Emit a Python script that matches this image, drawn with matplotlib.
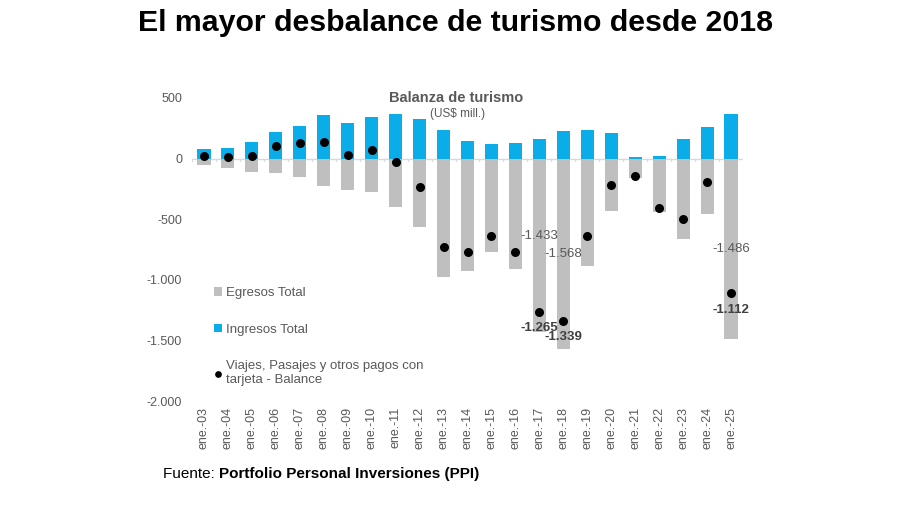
import matplotlib.pyplot as plt
from matplotlib.ticker import FuncFormatter

plt.rcParams["font.family"] = ["Liberation Sans", "DejaVu Sans"]

# Datos (US$ mill.)
periodos = ["ene.-03", "ene.-04", "ene.-05", "ene.-06", "ene.-07", "ene.-08",
            "ene.-09", "ene.-10", "ene.-11", "ene.-12", "ene.-13", "ene.-14",
            "ene.-15", "ene.-16", "ene.-17", "ene.-18", "ene.-19", "ene.-20",
            "ene.-21", "ene.-22", "ene.-23", "ene.-24", "ene.-25"]
ingresos = [78, 90, 134, 219, 270, 360, 292, 341, 369, 325, 238, 142,
            117, 131, 164, 224, 232, 210, 16, 25, 161, 257, 369]
egresos = [-55, -77, -109, -123, -148, -230, -262, -273, -402, -568, -975, -926,
           -770, -910, -1433, -1568, -885, -429, -164, -440, -664, -459, -1486]
balance = [20, 14, 22, 101, 128, 134, 30, 74, -27, -235, -732, -773,
           -642, -773, -1265, -1339, -642, -221, -142, -410, -500, -194, -1112]

# valores destacados
idx_lbl = [14, 15, 22]

azul = "#0AADE8"
gris = "#BFBFBF"
texto = "#595959"


def miles(v, pos=None):
    s = f"{abs(v):,.0f}".replace(",", ".")
    return ("-" if v < 0 else "") + s


fig = plt.figure(figsize=(9, 5.05), dpi=100)
ax = fig.add_axes([0.2133, 0.2059, 0.6123, 0.6001])

x = range(len(periodos))
b_eg = ax.bar(x, egresos, width=0.55, color=gris, label="Egresos Total", zorder=2)
b_in = ax.bar(x, ingresos, width=0.55, color=azul, label="Ingresos Total", zorder=2)
pts = ax.scatter(x, balance, s=30, color="black", zorder=4,
                 label="Viajes, Pasajes y otros pagos con\ntarjeta - Balance")

ax.axhline(0, color="#D9D9D9", lw=1, zorder=1)
for i in x:
    ax.plot([i - 0.5, i - 0.5], [0, -18], color="#D9D9D9", lw=0.8, zorder=1)

ax.set_xlim(-0.5, len(periodos) - 0.5)
ax.set_ylim(-2000, 500)
ax.set_yticks([500, 0, -500, -1000, -1500, -2000])
ax.yaxis.set_major_formatter(FuncFormatter(miles))
ax.set_xticks(list(x))
ax.set_xticklabels(periodos, rotation=90)
ax.tick_params(axis="both", length=0, colors=texto, labelsize=9)
ax.tick_params(axis="y", pad=7)
ax.tick_params(axis="x", pad=4)
for s in ax.spines.values():
    s.set_visible(False)

# etiquetas de valores
fr = {14: 0.447, 15: 0.5, 22: 0.5}
for i in idx_lbl:
    ax.text(i, egresos[i] * fr[i], miles(egresos[i]), ha="center",
            va="center", fontsize=9.5, color=texto, zorder=5)
    ax.text(i, balance[i] - 135, miles(balance[i]), ha="center", va="center",
            fontsize=9.5, color="#404040", fontweight="bold", zorder=5)

ax.legend(handles=[b_eg, b_in, pts], loc="upper left",
          bbox_to_anchor=(0.225, 0.455), bbox_transform=fig.transFigure,
          frameon=False, fontsize=9.5, labelcolor=texto, handlelength=0.6,
          handleheight=0.6, handletextpad=0.3, labelspacing=1.85,
          markerscale=0.7)

fig.text(0.506, 0.955, "El mayor desbalance de turismo desde 2018", ha="center",
         va="center", fontsize=21.8, fontweight="bold", color="black")
fig.text(0.507, 0.806, "Balanza de turismo", ha="center", va="center",
         fontsize=10.5, fontweight="bold", color=texto)
fig.text(0.508, 0.774, "(US$ mill.)", ha="center", va="center",
         fontsize=8.5, color=texto)

t = fig.text(0.181, 0.062, "Fuente: ", ha="left", va="center", fontsize=11,
             color="black")
fig.canvas.draw()
bb = t.get_window_extent()
fig.text(bb.x1 / fig.bbox.width, 0.062, "Portfolio Personal Inversiones (PPI)",
         ha="left", va="center", fontsize=11, fontweight="bold", color="black")

fig.savefig("out.png", dpi=100)
